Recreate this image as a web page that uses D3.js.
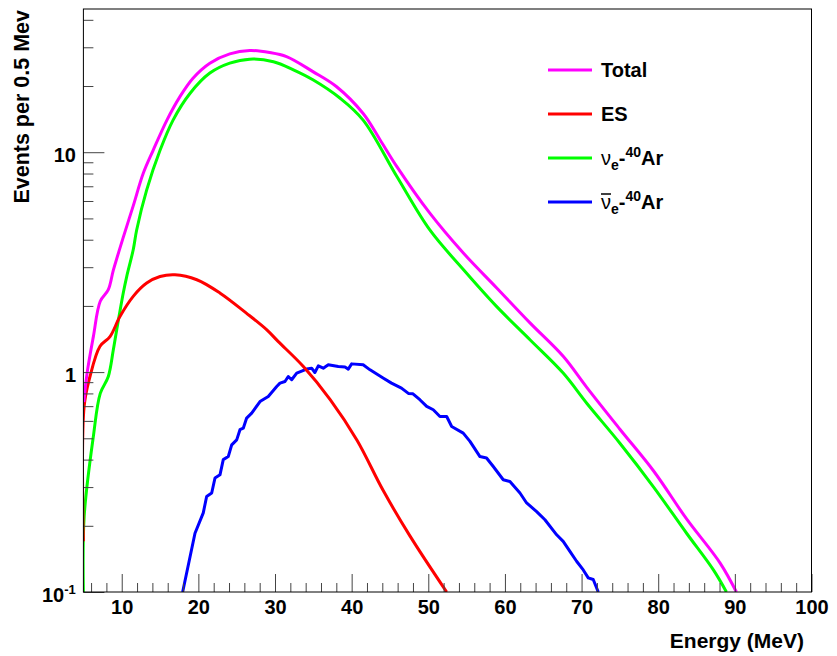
<!DOCTYPE html>
<html>
<head>
<meta charset="utf-8">
<script src="https://cdn.jsdelivr.net/npm/d3@7"></script>
<style>
    body { margin: 0; background: #fff; }
    svg { font-family: "Liberation Sans", Arial, Helvetica, sans-serif; font-weight: bold; }
</style>
</head>
<body>
<svg width="837" height="656"></svg>
<script>
// energies (MeV) and events per 0.5 MeV
const totalE = [5.05, 5.5, 6.3, 7.2, 8.25, 8.9, 10.2, 11.5, 12.8, 14.1, 15.9, 17.6, 19.3, 21.5, 24.1, 26.7, 29.3, 31.5, 35, 38, 41.5, 43.7, 45.9, 50.2, 54.6, 58.9, 63.3, 67.6, 70.7, 75, 79.4, 83.7, 88.1, 90.2];
const totalV = [0.73, 1.0, 1.45, 2.1, 2.37, 2.9, 4.1, 5.7, 8.0, 10.2, 14.0, 17.9, 21.7, 25.4, 28.0, 29.0, 28.4, 27.2, 23.2, 19.9, 15.0, 11.4, 8.6, 5.28, 3.47, 2.42, 1.67, 1.18, 0.85, 0.55, 0.355, 0.215, 0.135, 0.1];

const esE = [5.0, 5.1, 5.86, 7.17, 8.47, 9.77, 11.5, 13.26, 15, 16.95, 19.8, 22.8, 26.3, 28.9, 30.4, 33.7, 37.2, 40.7, 44.1, 47.6, 52.4];
const esV = [0.17, 0.70, 0.955, 1.31, 1.45, 1.79, 2.21, 2.54, 2.72, 2.77, 2.63, 2.29, 1.85, 1.56, 1.38, 1.06, 0.75, 0.49, 0.29, 0.18, 0.1];

const nueE = [5.0, 5.1, 6.3, 7.2, 8.25, 8.9, 9.35, 10.2, 10.65, 11.5, 11.95, 13.26, 15, 16.7, 18.9, 21.5, 24.1, 26.7, 29.8, 32.4, 35, 38.5, 41.5, 45.9, 50.2, 54.6, 58.9, 63.3, 67.6, 70.7, 75, 79.4, 83.7, 87.2, 88.9];
const nueV = [0.1, 0.22, 0.51, 0.80, 0.955, 1.26, 1.56, 2.29, 2.72, 3.6, 4.43, 6.74, 10.2, 14.0, 18.5, 22.9, 25.4, 26.5, 25.8, 23.7, 21.3, 17.6, 14.0, 7.75, 4.43, 2.92, 1.99, 1.40, 0.99, 0.72, 0.475, 0.30, 0.185, 0.126, 0.1];

const nuebarE = [17.95, 19.56, 20.64, 21.08, 21.74, 22.17, 22.82, 23.25, 23.9, 24.35, 25.0, 25.43, 25.86, 26.3, 26.96, 28.04, 29.12, 30.22, 30.65, 31.3, 31.73, 32.17, 32.83, 34.13, 34.78, 35.2, 35.65, 36.3, 36.95, 38.26, 39.13, 39.56, 40.0, 41.5, 42.4, 44.1, 45.2, 46.5, 47.4, 48.0, 48.9, 49.79, 50.65, 51.52, 52.4, 53.05, 54.56, 55.44, 56.74, 57.6, 58.48, 59.78, 60.65, 61.96, 62.83, 64.14, 65.22, 66.75, 67.6, 68.48, 69.35, 70.22, 70.87, 71.52, 72.18];
const nuebarV = [0.1, 0.185, 0.229, 0.272, 0.282, 0.33, 0.341, 0.40, 0.413, 0.467, 0.492, 0.547, 0.556, 0.618, 0.651, 0.735, 0.775, 0.86, 0.891, 0.906, 0.955, 0.923, 0.99, 1.032, 1.042, 0.996, 1.068, 1.042, 1.08, 1.06, 1.054, 1.032, 1.09, 1.08, 1.024, 0.94, 0.891, 0.846, 0.80, 0.797, 0.749, 0.698, 0.674, 0.628, 0.628, 0.566, 0.528, 0.484, 0.413, 0.407, 0.372, 0.324, 0.318, 0.282, 0.254, 0.232, 0.213, 0.182, 0.170, 0.153, 0.138, 0.126, 0.116, 0.114, 0.1];

const xMajor = [10, 20, 30, 40, 50, 60, 70, 80, 90, 100];
const xMinor = [6, 8, 12, 14, 16, 18, 22, 24, 26, 28, 32, 34, 36, 38, 42, 44, 46, 48, 52, 54, 56, 58, 62, 64, 66, 68, 72, 74, 76, 78, 82, 84, 86, 88, 92, 94, 96, 98];
const yMajor = [0.1, 1, 10];
const yMajorLabels = [["10", "-1"], ["1", ""], ["10", ""]];
const yMinor = [0.2, 0.3, 0.4, 0.5, 0.6, 0.7, 0.8, 0.9, 2, 3, 4, 5, 6, 7, 8, 9, 20, 30, 40];

const seriesNames = ["Total", "ES", "nue", "nuebar"];
const seriesColors = ["#ff00ff", "#ff0000", "#00ff00", "#0000ff"];

const series = [
    { name: seriesNames[0], xs: totalE, ys: totalV, color: seriesColors[0], smooth: true },
    { name: seriesNames[1], xs: esE, ys: esV, color: seriesColors[1], smooth: true },
    { name: seriesNames[2], xs: nueE, ys: nueV, color: seriesColors[2], smooth: true },
    { name: seriesNames[3], xs: nuebarE, ys: nuebarV, color: seriesColors[3], smooth: false }
];

const svg = d3.select("svg");
const plotL = 83.4, plotR = 811.5, plotT = 9, plotB = 592;

const xScale = d3.scaleLinear().domain([5, 100]).range([plotL, plotR]);
const yScale = d3.scaleLog().domain([0.1, 44.8]).range([plotB, plotT]);

svg.append("defs").append("clipPath").attr("id", "plotClip")
    .append("rect")
    .attr("x", plotL).attr("y", plotT)
    .attr("width", plotR - plotL).attr("height", plotB - plotT);

// curves
const smoothLine = d3.line()
    .x(d => xScale(d[0]))
    .y(d => yScale(d[1]))
    .curve(d3.curveCatmullRom.alpha(0.5));
const rawLine = d3.line()
    .x(d => xScale(d[0]))
    .y(d => yScale(d[1]));

const curveG = svg.append("g").attr("clip-path", "url(#plotClip)");
// draw order: green, blue, red, magenta on top
[2, 3, 1, 0].forEach(i => {
    const s = series[i];
    curveG.append("path")
        .datum(s.xs.map((x, j) => [x, s.ys[j]]))
        .attr("fill", "none")
        .attr("stroke", s.color)
        .attr("stroke-width", 3)
        .attr("stroke-linejoin", "round")
        .attr("d", s.smooth ? smoothLine : rawLine);
});

// axes with inside ticks
const tickColor = "#444";
function styleAxis(g) {
    g.select(".domain").remove();
    g.selectAll(".tick line").attr("stroke", tickColor);
}

svg.append("g")
    .attr("transform", "translate(0," + plotB + ")")
    .call(d3.axisBottom(xScale).tickValues(xMinor).tickSize(-9).tickFormat(""))
    .call(styleAxis);

const xAxisG = svg.append("g")
    .attr("transform", "translate(0," + plotB + ")")
    .call(d3.axisBottom(xScale).tickValues(xMajor).tickSize(-18))
    .call(styleAxis);
xAxisG.selectAll(".tick text")
    .attr("y", 22)
    .attr("dy", 0)
    .attr("fill", "#000")
    .style("font-family", "Liberation Sans, Arial, sans-serif")
    .style("font-weight", "bold")
    .style("font-size", "20px");

svg.append("g")
    .attr("transform", "translate(" + plotL + ",0)")
    .call(d3.axisLeft(yScale).tickValues(yMinor).tickSize(-10).tickFormat(""))
    .call(styleAxis);

svg.append("g")
    .attr("transform", "translate(" + plotL + ",0)")
    .call(d3.axisLeft(yScale).tickValues(yMajor).tickSize(-21).tickFormat(""))
    .call(styleAxis);

yMajor.forEach((v, i) => {
    const hasExp = yMajorLabels[i][1] !== "";
    const t = svg.append("text")
        .attr("x", hasExp ? 42 : 76)
        .attr("y", yScale(v) + 9.5)
        .attr("text-anchor", hasExp ? "start" : "end")
        .attr("font-size", 20);
    t.append("tspan").text(yMajorLabels[i][0]);
    if (hasExp) {
        t.append("tspan").attr("dy", -8).attr("font-size", 13).text(yMajorLabels[i][1]);
    }
});

// frame
svg.append("rect")
    .attr("x", plotL).attr("y", plotT)
    .attr("width", plotR - plotL).attr("height", plotB - plotT)
    .attr("fill", "none")
    .attr("stroke", "#000")
    .attr("stroke-width", 1);

// axis titles
svg.append("text")
    .attr("x", 804).attr("y", 648)
    .attr("text-anchor", "end")
    .attr("font-size", 21)
    .text("Energy (MeV)");

svg.append("text")
    .attr("transform", "translate(29,10) rotate(-90)")
    .attr("text-anchor", "end")
    .attr("font-size", 21.5)
    .text("Events per 0.5 Mev");

// legend
const legendY = [70, 114, 158, 202];
const legendG = svg.append("g");
series.forEach((s, i) => {
    const y = legendY[i];
    legendG.append("line")
        .attr("x1", 548).attr("x2", 592)
        .attr("y1", y).attr("y2", y)
        .attr("stroke", s.color)
        .attr("stroke-width", 3);
    const t = legendG.append("text")
        .attr("x", 601).attr("y", y + 7)
        .attr("font-size", 20);
    if (s.name === "Total" || s.name === "ES") {
        t.text(s.name);
    } else {
        t.append("tspan").attr("font-weight", "normal").text("ν");
        t.append("tspan").attr("dy", 5).attr("font-size", 14).text("e");
        t.append("tspan").attr("dy", -5).text("-");
        t.append("tspan").attr("dy", -8).attr("font-size", 14).text("40");
        t.append("tspan").attr("dy", 8).text("Ar");
        if (s.name === "nuebar") {
            const w = t.node().getSubStringLength(0, 1);
            legendG.append("line")
                .attr("x1", 601).attr("x2", 601 + w)
                .attr("y1", y - 8).attr("y2", y - 8)
                .attr("stroke", "#000")
                .attr("stroke-width", 1.5);
        }
    }
});
</script>
</body>
</html>
